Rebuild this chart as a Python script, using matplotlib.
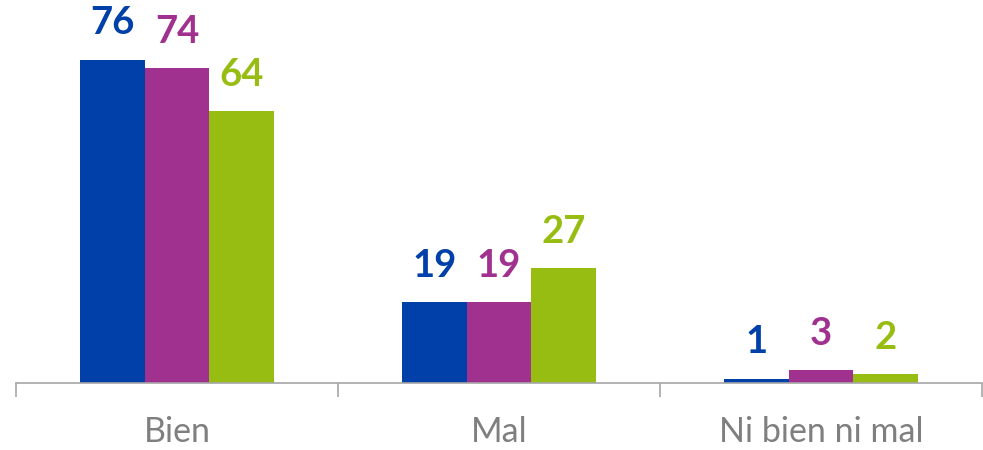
from matplotlib import pyplot as plt
import numpy as np

plt.rcParams['font.family'] = ['Lato', 'DejaVu Sans']

categories = ['Bien', 'Mal', 'Ni bien ni mal']
serie_a = [76, 19, 1]
serie_b = [74, 19, 3]
serie_c = [64, 27, 2]
colors = ['#0040A8', '#A0318F', '#97BD12']

fig = plt.figure(figsize=(9.83, 4.5), dpi=100)
ax = fig.add_axes([16 / 983, 67 / 450, 966 / 983, 383 / 450])

x = np.arange(len(categories))
width = 0.2
for k, (vals, col) in enumerate(zip([serie_a, serie_b, serie_c], colors)):
    bars = ax.bar(x + (k - 1) * width, vals, width, color=col, zorder=2)
    for b, v in zip(bars, vals):
        ax.annotate(str(v), (b.get_x() + b.get_width() / 2, b.get_height()),
                    xytext=(0, 14), textcoords='offset points',
                    ha='center', va='bottom', fontsize=27.5,
                    fontweight='bold', color=col)

ax.set_xlim(-0.5, 2.5)
ax.set_ylim(0, 90.1)

for s in ['top', 'right', 'left']:
    ax.spines[s].set_visible(False)
ax.spines['bottom'].set_color('#A6A6A6')
ax.spines['bottom'].set_linewidth(1.2)

ax.set_yticks([])
ax.set_xticks([-0.5, 0.5, 1.5, 2.5])
ax.set_xticklabels([])
ax.tick_params(axis='x', which='major', length=10, width=1.2,
               color='#A6A6A6', direction='out')
ax.set_xticks(x, minor=True)
ax.set_xticklabels(categories, minor=True)
ax.tick_params(axis='x', which='minor', length=0, pad=24,
               labelsize=24.5, labelcolor='#7F7F7F')

fig.savefig('out.png', dpi=100)
